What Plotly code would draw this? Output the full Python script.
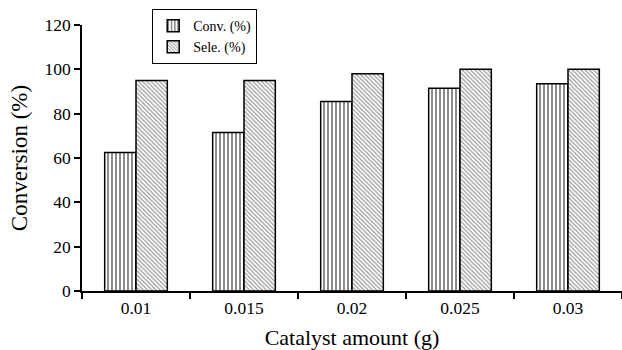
import plotly.graph_objects as go

categories = ["0.01", "0.015", "0.02", "0.025", "0.03"]
conv = [62.5, 71.5, 85.5, 91.5, 93.5]
sele = [95, 95, 98, 100, 100]

font = "Liberation Serif, Times New Roman, serif"

fig = go.Figure()
fig.add_trace(go.Bar(
    x=categories, y=conv, name="Conv. (%)",
    marker=dict(color="white", line=dict(color="black", width=1.5),
                pattern=dict(shape="|", size=4, solidity=0.45, fgcolor="black", bgcolor="white")),
))
fig.add_trace(go.Bar(
    x=categories, y=sele, name="Sele. (%)",
    marker=dict(color="white", line=dict(color="black", width=1.5),
                pattern=dict(shape="\\", size=3, solidity=0.4, fgcolor="#333333", bgcolor="white")),
))

fig.update_layout(
    width=622, height=350,
    margin=dict(l=82, r=0, t=25, b=59),
    plot_bgcolor="white", paper_bgcolor="white",
    barmode="group", bargap=0.42, bargroupgap=0,
    font=dict(family=font, size=17.5, color="black"),
    showlegend=True,
    legend=dict(x=0.13, y=1.06, xanchor="left", yanchor="top",
                bordercolor="black", borderwidth=1, bgcolor="white",
                font=dict(size=14, family=font), tracegroupgap=0),
)
fig.update_xaxes(
    showline=True, linecolor="black", linewidth=1.5,
    ticks="outside", tickson="boundaries", ticklen=6, tickcolor="black", tickwidth=1.5,
    showgrid=False,
    title=dict(text="Catalyst amount (g)", font=dict(size=22, family=font), standoff=13),
)
fig.update_yaxes(
    range=[0, 120], dtick=20,
    showline=True, linecolor="black", linewidth=1.5,
    ticks="outside", ticklen=6, tickcolor="black", tickwidth=1.5,
    showgrid=False, zeroline=False,
    title=dict(text="Conversion (%)", font=dict(size=23, family=font), standoff=10),
)

fig.write_html("out.html")
